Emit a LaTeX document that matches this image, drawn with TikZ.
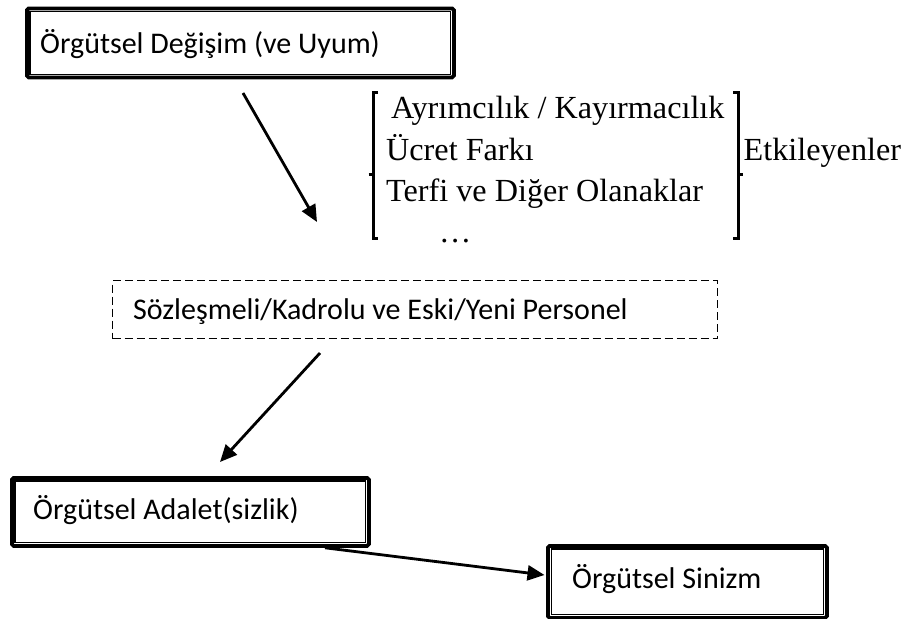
\documentclass[tikz,border=0pt]{standalone}
\usepackage{fontspec}
\setmainfont{Liberation Serif}
\newfontfamily\calfont{Carlito}
\usetikzlibrary{arrows.meta,calc}
\tikzset{
  outerbox/.style={draw, line width=3.8pt, rounded corners=1.8pt, rectangle, anchor=north west, inner sep=0pt},
  innerline/.style={draw, line width=1.2pt},
  dashbox/.style={draw, line width=1.1pt, dash pattern=on 8pt off 4pt, rectangle, anchor=north west, inner sep=0pt},
  caltext/.style={font=\calfont\fontsize{30pt}{34pt}\selectfont, anchor=base west, inner sep=0pt},
  timestext/.style={font=\fontsize{32.2pt}{36pt}\selectfont, anchor=base west, inner sep=0pt},
  conn/.style={line width=2.8pt, -{Triangle[length=17pt,width=15pt]}},
  brack/.style={line width=3pt}
}
\begin{document}
\begin{tikzpicture}[x=1pt,y=-1pt]
\useasboundingbox[fill=white] (0,0) rectangle (906,619);
% box 1
\node[outerbox, minimum width=427pt, minimum height=69pt] (b1) at (25,6.5) {};
\draw[innerline] ($(b1.north west)+(5,5)$) rectangle ($(b1.south east)+(-5,-5)$);
\node[caltext] (t1) at (40,53) {Örgütsel Değişim (ve Uyum)};
% bracket group
\node[timestext] (l1) at (391,118) {Ayrımcılık / Kayırmacılık};
\node[timestext] (l2) at (386,160) {Ücret Farkı};
\node[timestext] (l3) at (386,201) {Terfi ve Diğer Olanaklar};
\node[timestext] (l4) at (439,242) {…};
\node[timestext] (et) at (743.5,160) {Etkileyenler};
\draw[brack] (378,92) -- (373,92) -- (373,238) -- (378,238);
\draw[brack] (368.5,174) -- (373,174);
\draw[brack] (733,92) -- (738,92) -- (738,238) -- (733,238);
\draw[brack] (738,174) -- (742.5,174);
% dashed box
\node[dashbox, minimum width=605pt, minimum height=58pt] (b2) at (112,280) {};
\node[caltext] (t2) at (133,319) {Sözleşmeli/Kadrolu ve Eski/Yeni Personel};
% box 3
\node[outerbox, minimum width=357pt, minimum height=68pt] (b3) at (10,476) {};
\draw[innerline] ($(b3.north west)+(5,5)$) rectangle ($(b3.south east)+(-5,-5)$);
\node[caltext] (t3) at (33,519) {Örgütsel Adalet(sizlik)};
% box 4
\node[outerbox, minimum width=279pt, minimum height=72pt] (b4) at (546,544) {};
\draw[innerline] ($(b4.north west)+(5.5,5)$) rectangle ($(b4.south east)+(-5,-5)$);
\node[caltext] (t4) at (572,588) {Örgütsel Sinizm};
% connectors
\coordinate (a1s) at (243,93);
\coordinate (a1e) at (317,222);
\coordinate (a2s) at (320,353);
\coordinate (a2e) at (220,462);
\coordinate (a3s) at ($(b3.south west)+(315,0)$);
\coordinate (a3e) at ($(b4.north west)+(-1.5,31)$);
\draw[conn] (a1s) -- (a1e);
\draw[conn] (a2s) -- (a2e);
\draw[conn] (a3s) -- (a3e);
\end{tikzpicture}
\end{document}
